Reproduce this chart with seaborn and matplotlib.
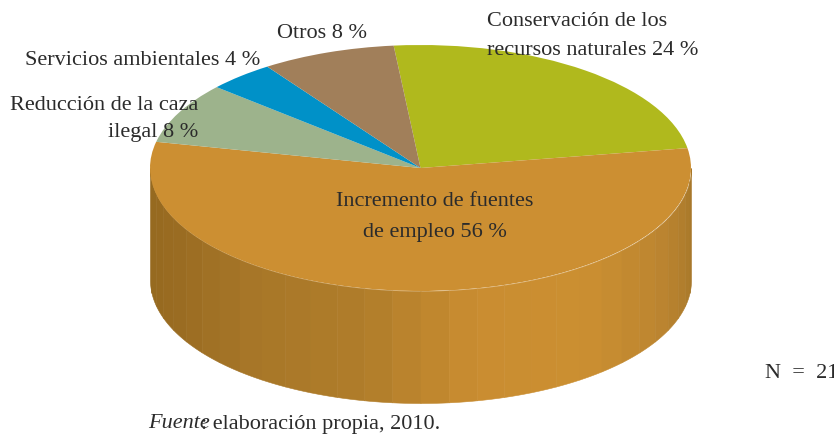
import numpy as np
import seaborn as sns
import matplotlib.pyplot as plt

categories = ['Conservación de los\nrecursos naturales 24 %',
              'Incremento de fuentes\nde empleo 56 %',
              'Reducción de la caza\nilegal 8 %',
              'Servicios ambientales 4 %',
              'Otros 8 %']
shares = [24, 56, 8, 4, 8]
slice_colors = ['#b0b91d', '#cc8f32', '#9db38c', '#0091c8', '#a17f5a']

sns.set_theme(style="white")
plt.rcParams['font.family'] = ['Liberation Serif', 'DejaVu Serif']

W, H = 834, 434
CX, CY = 420.5, 168   # centre of the top ellipse in pixels
RX, RY = 270.5, 123
DEPTH = 112 / RY

fig = plt.figure(figsize=(W / 100, H / 100), dpi=100)
ax = fig.add_axes([0, 0, 1, 1])

# side wall, shaded in narrow bands
band_edges = np.linspace(np.pi, 2 * np.pi, 31)
wall = sns.blend_palette(['#95691f', '#9a6c22', '#a87728', '#b07d2a', '#ca8d31',
                          '#cb8f31', '#bc8530', '#a8782a'], 30)
for i, c in enumerate(wall):
    t = np.linspace(band_edges[i], band_edges[i + 1], 12)
    x = np.cos(t)
    y = np.sin(t)
    ax.fill_between(x, y, y - DEPTH, color=c, linewidth=0.4, zorder=1)

# top of the pie
wedges, _ = ax.pie(shares, colors=slice_colors, startangle=95.7, counterclock=False,
                   radius=1, center=(0, 0), frame=True,
                   wedgeprops={'linewidth': 0, 'zorder': 2})
ax.set_aspect('auto')
ax.set_xlim((0 - CX) / RX, (W - CX) / RX)
ax.set_ylim((CY - H) / RY, CY / RY)
ax.axis('off')


def label(x, y, s, ha='left', spacing=1.3, **kw):
    fig.text(x / W, 1 - y / H, s, ha=ha, va='center', color='#2b2b2b',
             fontsize=16, linespacing=spacing, **kw)


label(487, 36, categories[0], spacing=1.65)
label(435, 217, categories[1], ha='center', spacing=1.85)
label(198, 119, categories[2], ha='right', spacing=1.5)
label(25, 60, categories[3])
label(322, 33, categories[4], ha='center')
label(765, 374, 'N  =  21')
label(148, 424, 'Fuente', style='italic')
label(201, 424, ': elaboración propia, 2010.')

fig.savefig('out.png', dpi=100)
